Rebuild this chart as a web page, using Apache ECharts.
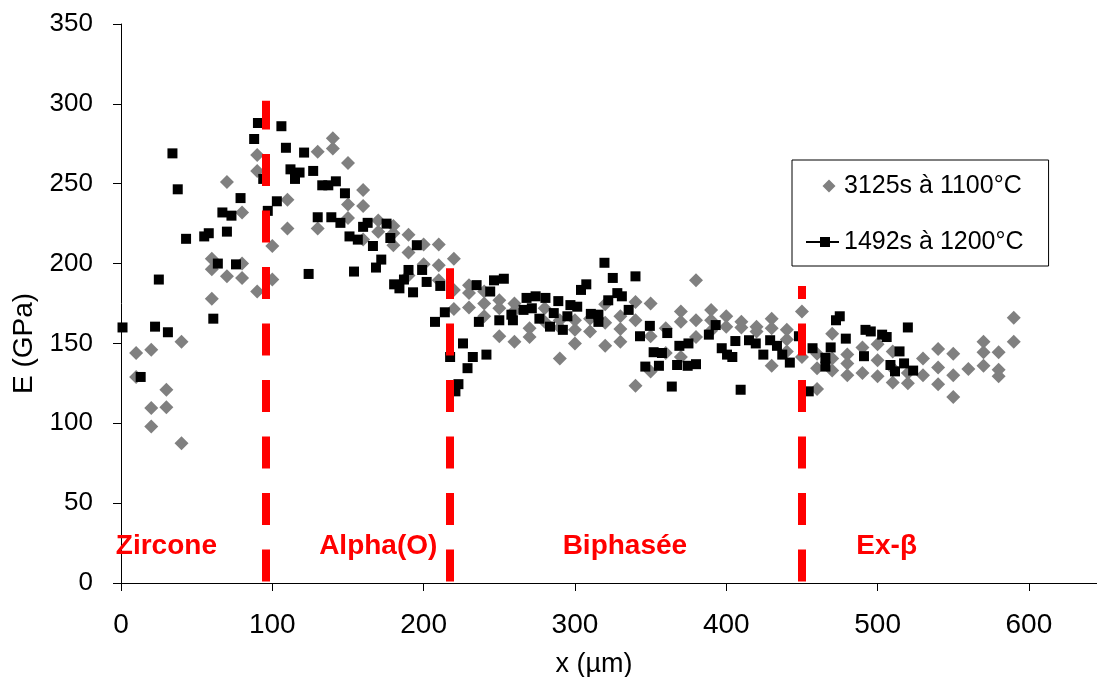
<!DOCTYPE html>
<html>
<head>
<meta charset="utf-8">
<script src="https://cdn.jsdelivr.net/npm/echarts@6/dist/echarts.min.js"></script>
<style>
html,body{margin:0;padding:0;background:#fff;}
#chart{width:1097px;height:677px;}
</style>
</head>
<body>
<div id="chart"></div>
<script>
// ---- data ----
const seriesNames = ['3125s à 1100°C', '1492s à 1200°C'];
// gray diamonds: [x (µm), E (GPa)]
const points1100 = [
[10,144],[10,129],
[20,146],[20,109.5],[20,98],
[30,121],[30,110],
[40,151],[40,87.5],
[60,203],[60,196.5],[60,178],
[70,251],[70,192],
[80,232],[80,200],[80,191],
[90,268],[90,258],[90,182.5],
[100,211],[100,190],
[110,240],[110,222],
[130,270],[130,222],
[140,278.5],[140,272],
[150,263],[150,237],[150,228.5],
[160,246],[160,236],[160,215],
[170,227],[170,220],
[180,223.5],[180,219],[180,211.5],
[190,218],[190,207],[190,192.5],
[200,212],[200,199.5],
[210,212],[210,199],[210,189.5],
[220,203],[220,183.5],[220,171.5],
[230,186.5],[230,181.5],[230,172.5],
[240,182.5],[240,175],[240,167],
[250,177],[250,172],[250,154.5],
[260,175],[260,170.5],[260,151],
[270,159.5],[270,154],
[280,172],[280,163.5],
[290,164.5],[290,160],[290,140.5],
[300,164.5],[300,158.5],[300,150],
[310,165.5],[310,157.5],
[320,174.5],[320,163],[320,148.5],
[330,167],[330,159],[330,151],
[340,176],[340,164.5],[340,123.5],
[350,175],[350,154.5],[350,132.5],
[360,159.5],[360,144],
[370,170],[370,163.5],[370,141.5],
[380,189.5],[380,164.5],[380,154],
[390,171],[390,164.5],[390,158],
[400,167],[400,160.5],
[410,163.5],[410,160],
[420,160.5],[420,157.5],
[430,165.5],[430,159.5],[430,136],
[440,158.5],[440,152.5],[440,145],
[450,170],[450,141.5],
[460,143.5],[460,134.5],[460,121.5],
[470,156],[470,140.5],[470,133],
[480,143],[480,137.5],[480,130],
[490,147.5],[490,131.5],
[500,149.5],[500,139.5],[500,129.5],
[510,145],[510,134.5],[510,125.5],
[520,131.5],[520,125],
[530,140.5],[530,130],
[540,146.5],[540,135],[540,124.5],
[550,143.5],[550,130],[550,116.5],
[560,134],
[570,151],[570,144.5],[570,136],
[580,144.5],[580,133.5],[580,129.5],
[590,166],[590,151]
];
// black squares: [x (µm), E (GPa)]
const points1200 = [
[1,160],[13,129],[22.5,160.5],[25,190],[31,157],[34,269],[37.5,246.5],[43,215.5],
[55,217],[58,219],[61,165.5],[64,200],[67,232],[70,220],[73,230],[76,199.5],[79,241],
[88,278],[90.5,288],[94,253],[97,233],[103,239],[106,286],[109,272.5],[112,259],
[115,253],[118,257],[121,269.5],[124,193.5],[127,258],[130,229],[133,249],[137,249],
[139,229],[142,251.5],[145,225.5],[148,244],[151,217],[154,195],[156.5,215],[160,223],
[163,225.5],[166.5,211],[168.5,197.5],[172,202.5],[175.5,225],[178,216],[180.5,187],
[184,184.5],[187,190],[190,196],[193,182],[195.5,211.5],[199,196],[202,188.5],
[207.5,163.5],[211,186],[214,169.5],[217.5,141.5],[221,120],[223,124.5],[226,150],
[229,134.5],[232.5,141.5],[235,186.5],[236.5,163.5],[241.5,143],[244,182.5],
[246.5,189.5],[253,190.5],[250,164.5],[258,168],[259,164.5],[266,171],[268,178.5],
[271.5,172],[274,179.5],[276.5,165.5],[280.5,178.5],[283.5,160.5],[286,169],
[289,176.5],[292,158.5],[295,167],[297,174],[301.5,173],[304,183.5],[307.5,187],
[310.5,168.5],[315.5,168],[315.5,163.5],[319.5,200.5],[322,177],[325,191],[328,181.5],
[331,179.5],[335.5,171],[340,192],[343,154.5],[346.5,135.5],[349.5,161],[352,144.5],
[355.5,136],[357.5,144],[361,156.5],[364,123],[367.5,136.5],[369,148.5],[375,150],
[374.5,136],[380,137],[388.5,155.5],[393,161.5],[397,147],[400.5,143],[404,141.5],
[406,151.5],[409.5,121],[415,152],[419.5,150],[424.5,143],[429,152],[433.5,148.5],
[437,143],[442,138],[448,154.5],[454.5,120],[457,147],[465.5,141],[465.5,135.5],
[469,147.5],[472.5,164.5],[475,167],[479,153],[491,142],[492,158.5],[495.5,157.5],
[503,155.5],[506,154],[508.5,136.5],[511.5,132.5],[514.5,145],[517.5,137.5],
[520,160],[523.5,133]
];
// phase boundaries (dashed red lines) and their top value
const boundaryX = [95.9, 217, 449.7];
const boundaryTop = [302, 197, 186];
// phase labels
const zoneNames = ['Zircone', 'Alpha(O)', 'Biphasée', 'Ex-β'];
const zoneLabelX = [30, 170, 333, 506];
const zoneLabelY = 23;
// axes
const xTicks = [0, 100, 200, 300, 400, 500, 600];
const yTicks = [0, 50, 100, 150, 200, 250, 300, 350];

const FONT = "'Liberation Sans', Arial, sans-serif";

const chart = echarts.init(document.getElementById('chart'), null, {renderer: 'canvas'});
chart.setOption({
  backgroundColor: '#ffffff',
  animation: false,
  grid: {left: 121, right: 0, top: 24, bottom: 94, containLabel: false, outerBoundsMode: 'none'},
  legend: {
    orient: 'vertical',
    left: 792, top: 160,
    padding: [11, 25, 9, 14],
    itemGap: 26,
    itemWidth: 33, itemHeight: 13,
    borderColor: '#000', borderWidth: 1,
    backgroundColor: '#fff',
    textStyle: {fontFamily: FONT, fontSize: 25, color: '#000', lineHeight: 30},
    data: [
      {name: seriesNames[0], icon: 'path://M0,0 L0,0 Z M23,0 L29.5,6.5 L23,13 L16.5,6.5 Z M33,13 L33,13 Z',
       itemStyle: {color: '#808080'}},
      {name: seriesNames[1], icon: 'path://M0,0 L0,0 Z M0,5.5 H33 V7.5 H0 Z M14,1.5 H24 V11.5 H14 Z M33,13 L33,13 Z',
       itemStyle: {color: '#000'}}
    ]
  },
  xAxis: {
    type: 'value', min: 0, max: 645, interval: 100,
    name: 'x (µm)', nameLocation: 'middle', nameGap: 68,
    nameTextStyle: {fontFamily: FONT, fontSize: 27, color: '#000', padding: [0, 30, 0, 0]},
    axisLine: {show: true, lineStyle: {color: '#000', width: 1}},
    axisTick: {show: true, inside: false, length: 8, lineStyle: {color: '#000'}},
    axisLabel: {fontFamily: FONT, fontSize: 28, color: '#000', margin: 28, showMaxLabel: false,
      formatter: v => xTicks.includes(v) ? String(v) : ''},
    splitLine: {show: false}
  },
  yAxis: {
    type: 'value', min: 0, max: 350, interval: 50,
    name: 'E (GPa)', nameLocation: 'middle', nameGap: 75, nameRotate: 90,
    nameTextStyle: {fontFamily: FONT, fontSize: 28, color: '#000', padding: [0, 80, 0, 0]},
    axisLine: {show: true, lineStyle: {color: '#000', width: 1}},
    axisTick: {show: true, inside: false, length: 8, lineStyle: {color: '#000'}},
    axisLabel: {fontFamily: FONT, fontSize: 26, color: '#000', margin: 28,
      formatter: v => yTicks.includes(v) ? String(v) : ''},
    splitLine: {show: false}
  },
  series: [
    {
      name: seriesNames[0], type: 'scatter',
      symbol: 'diamond', symbolSize: 14,
      itemStyle: {color: '#808080', opacity: 1},
      data: points1100, z: 2
    },
    {
      name: seriesNames[1], type: 'scatter',
      symbol: 'rect', symbolSize: 10,
      itemStyle: {color: '#000000', opacity: 1},
      data: points1200, z: 3,
      markLine: {
        silent: true, symbol: ['none', 'none'], z: 5,
        label: {show: false},
        lineStyle: {color: '#ff0000', width: 8, type: [32, 24.5], opacity: 1},
        emphasis: {disabled: true},
        data: boundaryX.map((bx, i) => [{coord: [bx, 1]}, {coord: [bx, boundaryTop[i]]}])
      },
      markPoint: {
        silent: true, symbol: 'circle', symbolSize: 0,
        label: {show: true, position: 'inside', color: '#ff0000', fontWeight: 'bold',
          fontFamily: FONT, fontSize: 28, formatter: p => p.name},
        data: zoneNames.map((n, i) => ({name: n, coord: [zoneLabelX[i], zoneLabelY]}))
      }
    }
  ]
});
</script>
</body>
</html>
